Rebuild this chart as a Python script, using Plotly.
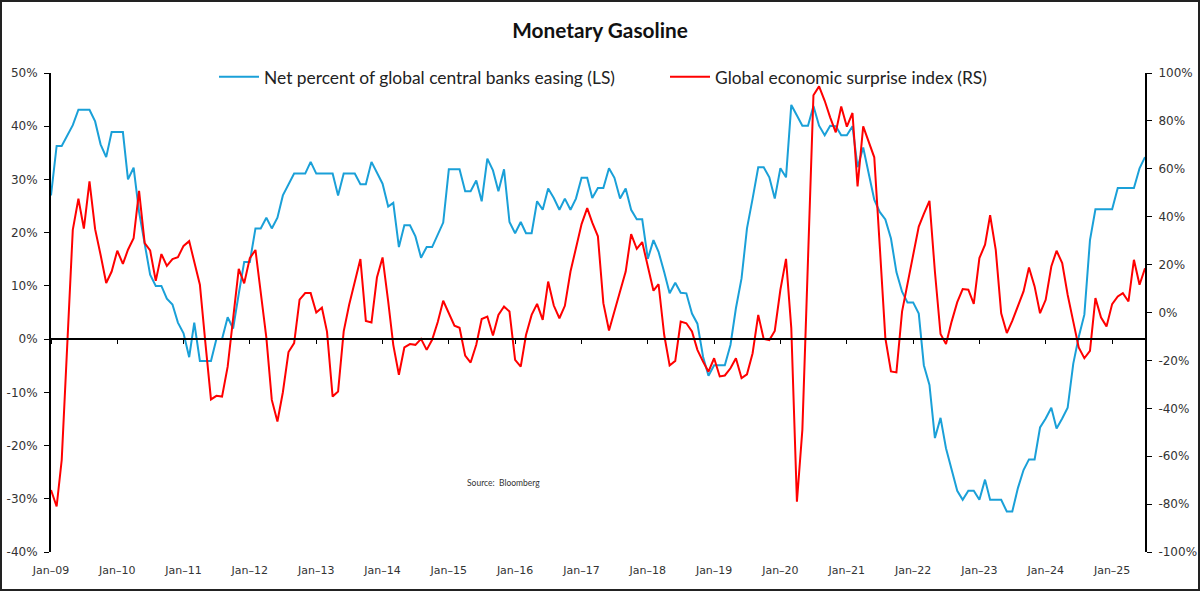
import pandas as pd
import plotly.graph_objects as go

# monthly, Jan-2009 .. Jul-2025
months = pd.date_range("2009-01-01", "2025-07-01", freq="MS")

# Net percent of global central banks easing (left scale, %)
cb_easing = [
    27.0, 36.3, 36.3, 38.3, 40.2, 43.1, 43.1, 43.1, 40.9, 36.6, 34.2, 38.9,   # 2009
    38.9, 38.9, 30.0, 32.2, 23.9, 17.6, 12.1, 10.0, 10.0, 7.6, 6.5, 3.1,      # 2010
    1.1, -3.4, 3.1, -4.1, -4.1, -4.1, 0.0, 0.0, 4.1, 2.0, 8.5, 14.5,          # 2011
    14.5, 20.8, 20.8, 22.8, 20.8, 22.8, 27.0, 29.2, 31.1, 31.1, 31.1, 33.3,   # 2012
    31.1, 31.1, 31.1, 31.1, 27.0, 31.1, 31.1, 31.1, 29.1, 29.1, 33.3, 31.4,   # 2013
    29.2, 24.9, 25.6, 17.3, 21.4, 21.4, 19.3, 15.3, 17.3, 17.3, 19.8, 21.9,   # 2014
    31.9, 31.9, 31.9, 27.8, 27.8, 29.8, 25.9, 33.9, 31.7, 27.8, 31.9, 22.0,   # 2015
    19.9, 22.0, 19.9, 19.9, 25.9, 24.3, 28.3, 26.5, 24.3, 26.4, 24.3, 26.4,   # 2016
    30.3, 30.3, 26.5, 28.4, 28.4, 32.1, 30.3, 26.4, 28.3, 24.3, 22.5, 22.5,   # 2017
    15.1, 18.6, 16.4, 12.6, 8.6, 10.6, 8.7, 8.6, 4.8, 2.9, -3.3, -6.9,        # 2018
    -4.9, -4.9, -4.9, -1.1, 5.8, 11.4, 20.8, 26.4, 32.3, 32.3, 30.4, 26.4,    # 2019
    32.1, 30.4, 44.0, 42.0, 40.1, 40.1, 43.8, 40.1, 38.3, 40.1, 40.0, 38.3,   # 2020
    38.3, 40.0, 32.3, 36.0, 31.3, 26.2, 23.9, 22.5, 18.9, 12.6, 8.9, 6.9,     # 2021
    6.9, 4.8, -4.9, -8.6, -18.6, -14.8, -20.5, -24.6, -28.5, -30.2, -28.5, -28.5,  # 2022
    -30.2, -26.4, -30.2, -30.2, -30.2, -32.4, -32.4, -28.0, -24.6, -22.6, -22.6, -16.6,  # 2023
    -14.9, -12.9, -16.8, -14.9, -12.9, -4.6, 0.4, 4.6, 18.6, 24.4, 24.4, 24.4,  # 2024
    24.4, 28.4, 28.4, 28.4, 28.4, 32.1, 34.2,                                # 2025
]

# Global economic surprise index (right scale, %)
surprise = [
    -74.1, -81.0, -61.6, -13.0, 34.5, 47.5, 35.0, 54.7, 34.8, 24.1, 12.3, 17.1,
    25.8, 20.3, 26.2, 31.0, 50.8, 29.0, 25.9, 13.2, 24.4, 19.5, 22.3, 23.1,
    27.8, 29.8, 21.3, 11.6, -12.5, -36.3, -34.8, -35.1, -22.6, -2.5, 18.2, 12.2,
    22.7, 26.1, 8.5, -10.5, -36.5, -45.5, -33.3, -16.5, -12.8, 5.4, 8.1, 8.1,
    0.0, 2.0, -8.0, -35.1, -33.0, -7.9, 3.2, 13.0, 22.3, -3.5, -4.2, 14.6,
    23.0, 4.6, -13.5, -26.0, -14.6, -13.2, -13.5, -11.0, -15.6, -11.4, -4.0, 4.9,
    -0.3, -5.5, -6.4, -18.0, -20.9, -13.5, -2.7, -1.7, -9.6, -1.0, 2.5, 0.4,
    -19.8, -22.6, -9.4, -1.0, 3.6, -3.1, 12.9, 2.9, -2.4, 2.8, 17.1, 26.5,
    36.9, 43.6, 37.5, 31.8, 3.9, -7.5, 0.4, 8.8, 17.1, 32.7, 26.6, 29.4,
    19.9, 9.1, 11.8, -9.3, -22.1, -20.2, -3.8, -4.5, -7.9, -15.6, -20.5, -24.7,
    -19.1, -26.7, -26.3, -23.3, -19.1, -27.4, -25.8, -17.0, -1.0, -11.0, -11.5, -7.7,
    9.5, 22.4, -6.5, -79.0, -49.0, 20.0, 90.7, 94.4, 88.4, 81.5, 75.2, 86.0,
    77.6, 83.3, 52.6, 77.7, 71.4, 64.8, 28.0, -10.7, -24.6, -25.0, 0.4, 12.3,
    23.0, 35.9, 41.2, 46.6, 17.0, -9.0, -13.2, -3.8, 4.3, 9.8, 9.5, 3.6,
    22.7, 28.3, 40.6, 26.2, -0.3, -8.6, -3.5, 2.5, 8.8, 18.8, 10.9, -0.3,
    5.3, 19.2, 25.8, 20.6, 7.4, -3.8, -14.6, -19.1, -16.0, 6.0, -2.1, -5.8,
    3.5, 6.7, 8.1, 4.6, 22.0, 11.6, 18.5,
]

left_ticks = list(range(-40, 51, 10))
right_ticks = list(range(-100, 101, 20))
left_labels = [f"{v}%" for v in left_ticks]
right_labels = [f"{v}%" for v in right_ticks]

BLUE = "#1aa0d8"
RED = "#ff0000"
FONT = "Lato"
TICK_FONT = "DejaVu Sans"

fig = go.Figure()
fig.add_trace(go.Scatter(
    x=months, y=cb_easing, name="Net percent of global central banks easing (LS)",
    mode="lines", line=dict(color=BLUE, width=2), xaxis="x", yaxis="y",
))
fig.add_trace(go.Scatter(
    x=months, y=surprise, name="Global economic surprise index (RS)",
    mode="lines", line=dict(color=RED, width=2), xaxis="x", yaxis="y2",
))
# invisible carrier so the zero-line axis (x2) gets drawn
fig.add_trace(go.Scatter(
    x=months, y=cb_easing, mode="lines", line=dict(width=0), opacity=0,
    showlegend=False, hoverinfo="skip", xaxis="x2", yaxis="y",
))

x_range = [months[0], months[-1]]
axis_style = dict(showgrid=False, zeroline=False, showline=True, linecolor="black",
                  linewidth=2, ticks="outside", ticklen=5, tickcolor="black",
                  ticklabelstandoff=4, automargin=False,
                  tickfont=dict(family=TICK_FONT, size=12, color="#333"))

fig.update_layout(
    width=1200, height=591,
    margin=dict(l=51, r=55, t=73, b=39),
    paper_bgcolor="white", plot_bgcolor="white",
    font=dict(family=FONT, color="#222"),
    title=dict(text="<b>Monetary Gasoline</b>", x=0.5, xanchor="center",
               y=(591 - 31) / 591, yanchor="middle", font=dict(size=20.8, color="#111")),
    showlegend=True,
    legend=dict(orientation="h", x=(214 - 51) / 1094, xanchor="left", y=(552 - 77) / 479,
                yanchor="middle", font=dict(size=17.4, color="#222"),
                itemwidth=40, entrywidth=396, entrywidthmode="pixels",
                bgcolor="rgba(0,0,0,0)"),
    xaxis=dict(range=x_range, dtick="M12", tick0="2009-01-01", tickformat="%b–%y",
               showgrid=False, zeroline=False, showline=False, ticks="outside",
               ticklen=8, tickcolor="rgba(0,0,0,0)", automargin=False,
               tickfont=dict(family=TICK_FONT, size=11, color="#333")),
    xaxis2=dict(range=x_range, dtick="M12", tick0="2009-01-01", overlaying="x",
                anchor="free", position=40 / 90, showticklabels=False,
                showgrid=False, zeroline=False, showline=True, linecolor="black",
                linewidth=2, ticks="outside", ticklen=4, tickcolor="black"),
    yaxis=dict(range=[-40, 50], tickvals=left_ticks, ticktext=left_labels,
               side="left", **axis_style),
    yaxis2=dict(range=[-100, 100], tickvals=right_ticks, ticktext=right_labels,
                side="right", overlaying="y", anchor="x", **axis_style),
)

fig.add_annotation(text="Source:  Bloomberg", xref="paper", yref="paper",
                   x=(503 - 51) / 1094, y=(552 - 490) / 479, showarrow=False,
                   font=dict(family=FONT, size=8.5, color="#333"))

# chart frame
fig.add_shape(type="rect", xref="paper", yref="paper",
              x0=(1 - 51) / 1094, x1=(1199 - 51) / 1094,
              y0=(552 - 590) / 479, y1=(552 - 1) / 479,
              line=dict(color="#222", width=2), fillcolor="rgba(0,0,0,0)")

fig.write_html("out.html", config={"displayModeBar": False},
               post_script="document.body.style.margin='0';")
